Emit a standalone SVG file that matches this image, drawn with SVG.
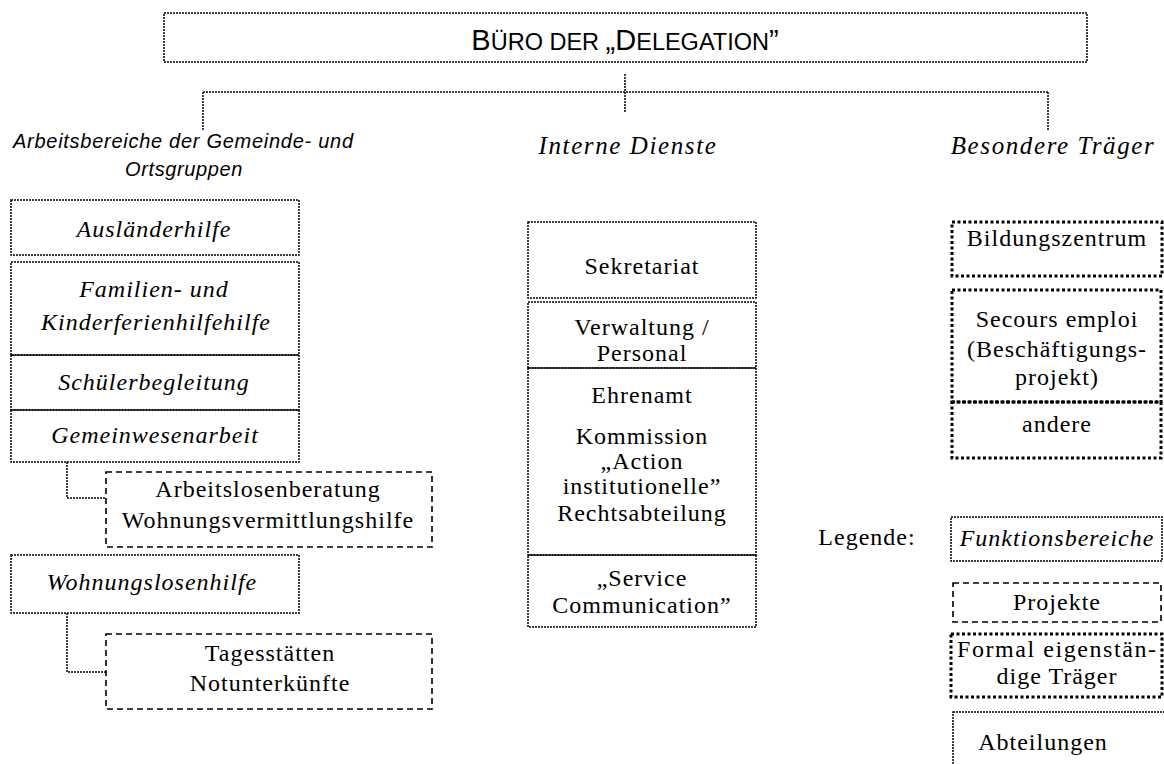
<svg xmlns="http://www.w3.org/2000/svg" width="1164" height="764" viewBox="0 0 1164 764">
<style>
  .dot { fill: none; stroke: #000; stroke-width: 1.5; stroke-dasharray: 2 1; }
  .dash { fill: none; stroke: #000; stroke-width: 1.6; stroke-dasharray: 6 4; }
  .thick { fill: none; stroke: #000; stroke-width: 3; stroke-dasharray: 3 2.5; }
  .tr { font-family: "Liberation Serif", "Times New Roman", serif; font-size: 24px; letter-spacing: 1px; fill: #000; text-anchor: middle; }
  .ti { font-family: "Liberation Serif", "Times New Roman", serif; font-size: 24px; font-style: italic; letter-spacing: 1px; fill: #000; text-anchor: middle; }
  .th { font-family: "Liberation Serif", "Times New Roman", serif; font-size: 25px; font-style: italic; letter-spacing: 1.6px; fill: #000; text-anchor: middle; }
  .ai { font-family: "Liberation Sans", Arial, sans-serif; font-size: 20px; font-style: italic; fill: #000; text-anchor: middle; }
  .title { font-family: "Liberation Sans", Arial, sans-serif; font-size: 29px; fill: #000; text-anchor: middle; }
  .sc { font-size: 23.5px; }
</style>

<g id="connectors">
  <path class="dot" d="M625 74 V113"/>
  <path class="dot" d="M203 92 H1048"/>
  <path class="dot" d="M203 92 V131"/>
  <path class="dot" d="M1048 92 V131"/>
  <path class="dot" d="M67 462 V498 H106"/>
  <path class="dot" d="M67 613 V672 H106"/>
</g>

<g id="buero">
  <rect class="dot" x="164" y="13" width="923" height="49"/>
  <text class="title" x="625" y="50">B<tspan class="sc">ÜRO DER </tspan>„D<tspan class="sc">ELEGATION</tspan>”</text>
</g>

<g id="heading-arbeitsbereiche">
  <text class="ai" x="183" y="148" textLength="340" lengthAdjust="spacing">Arbeitsbereiche der Gemeinde- und</text>
  <text class="ai" x="184" y="176" letter-spacing="0.6">Ortsgruppen</text>
</g>
<g id="heading-interne">
  <text class="th" x="628" y="154">Interne Dienste</text>
</g>
<g id="heading-besondere">
  <text class="th" x="1053" y="154">Besondere Träger</text>
</g>

<!-- Left column -->
<g id="auslaenderhilfe">
  <rect class="dot" x="11" y="200" width="288" height="55"/>
  <text class="ti" x="154" y="237">Ausländerhilfe</text>
</g>
<g id="familien">
  <rect class="dot" x="11" y="262" width="288" height="93"/>
  <text class="ti" x="154" y="297">Familien- und</text>
  <text class="ti" x="156" y="330">Kinderferienhilfehilfe</text>
</g>
<g id="schuelerbegleitung">
  <rect class="dot" x="11" y="355" width="288" height="55"/>
  <text class="ti" x="154" y="390">Schülerbegleitung</text>
</g>
<g id="gemeinwesenarbeit">
  <rect class="dot" x="11" y="410" width="288" height="52"/>
  <text class="ti" x="155" y="443">Gemeinwesenarbeit</text>
</g>
<g id="arbeitslosenberatung">
  <rect class="dash" x="106" y="472" width="326" height="75"/>
  <text class="tr" x="268" y="497">Arbeitslosenberatung</text>
  <text class="tr" x="268" y="528">Wohnungsvermittlungshilfe</text>
</g>
<g id="wohnungslosenhilfe">
  <rect class="dot" x="11" y="555" width="288" height="58"/>
  <text class="ti" x="152" y="590">Wohnungslosenhilfe</text>
</g>
<g id="tagesstaetten">
  <rect class="dash" x="106" y="634" width="326" height="75"/>
  <text class="tr" x="270" y="661">Tagesstätten</text>
  <text class="tr" x="270" y="691">Notunterkünfte</text>
</g>

<!-- Middle column -->
<g id="sekretariat">
  <rect class="dot" x="528" y="222" width="228" height="76"/>
  <text class="tr" x="642" y="274">Sekretariat</text>
</g>
<g id="verwaltung">
  <rect class="dot" x="528" y="302" width="228" height="66"/>
  <text class="tr" x="642" y="335">Verwaltung /</text>
  <text class="tr" x="642" y="361">Personal</text>
</g>
<g id="ehrenamt">
  <rect class="dot" x="528" y="368" width="228" height="187"/>
  <text class="tr" x="642" y="403">Ehrenamt</text>
  <text class="tr" x="642" y="444">Kommission</text>
  <text class="tr" x="642" y="469">„Action</text>
  <text class="tr" x="642" y="494">institutionelle”</text>
  <text class="tr" x="642" y="521">Rechtsabteilung</text>
</g>
<g id="service-communication">
  <rect class="dot" x="528" y="555" width="228" height="72"/>
  <text class="tr" x="642" y="586">„Service</text>
  <text class="tr" x="642" y="613">Communication”</text>
</g>

<!-- Right column -->
<g id="bildungszentrum">
  <rect class="thick" x="952" y="222" width="210" height="54"/>
  <text class="tr" x="1057" y="246">Bildungszentrum</text>
</g>
<g id="secours-emploi">
  <rect class="thick" x="952" y="290" width="209" height="112"/>
  <text class="tr" x="1057" y="327">Secours emploi</text>
  <text class="tr" x="1057" y="357">(Beschäftigungs-</text>
  <text class="tr" x="1057" y="385">projekt)</text>
</g>
<g id="andere">
  <rect class="thick" x="952" y="402" width="209" height="56"/>
  <text class="tr" x="1057" y="432">andere</text>
</g>

<!-- Legend -->
<g id="legende">
  <text class="tr" x="867" y="545">Legende:</text>
</g>
<g id="legend-funktionsbereiche">
  <rect class="dot" x="951" y="517" width="211" height="44"/>
  <text class="ti" x="1057" y="546">Funktionsbereiche</text>
</g>
<g id="legend-projekte">
  <rect class="dash" x="953" y="583" width="208" height="39"/>
  <text class="tr" x="1057" y="610">Projekte</text>
</g>
<g id="legend-traeger">
  <rect class="thick" x="951" y="634" width="211" height="63"/>
  <text class="tr" x="1057" y="657" textLength="200" lengthAdjust="spacing">Formal eigenstän-</text>
  <text class="tr" x="1057" y="684">dige Träger</text>
</g>
<g id="legend-abteilungen">
  <rect class="dot" x="953" y="712" width="220" height="70"/>
  <text class="tr" x="1043" y="750">Abteilungen</text>
</g>
</svg>
